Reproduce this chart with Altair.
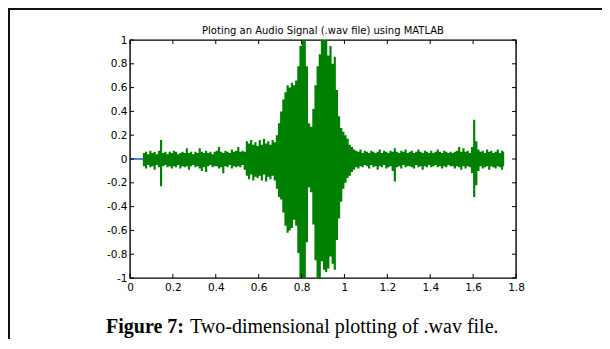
import altair as alt
import pandas as pd

# ---------------- text ----------------
title_text = "Ploting an Audio Signal (.wav file) using MATLAB"
caption_bold = "Figure 7:"
caption_rest = "Two-dimensional plotting of .wav file."

# ---------------- axes ----------------
x_ticks = [0, 0.2, 0.4, 0.6, 0.8, 1, 1.2, 1.4, 1.6, 1.8]
y_ticks = [-1, -0.8, -0.6, -0.4, -0.2, 0, 0.2, 0.4, 0.6, 0.8, 1]

# ---------------- signal envelope (per 0.01 s window) ----------------
step = 0.01
signal_end = 1.745
upper = [
    0, 0, 0, 0, 0, 0, 0.05, 0.06, 0.04, 0.07,
    0.05, 0.06, 0.04, 0.07, 0.16, 0.05, 0.06, 0.04, 0.06, 0.05,
    0.07, 0.06, 0.04, 0.05, 0.06, 0.05, 0.09, 0.05, 0.06, 0.04,
    0.06, 0.05, 0.09, 0.06, 0.05, 0.07, 0.05, 0.06, 0.04, 0.06,
    0.07, 0.10, 0.06, 0.05, 0.07, 0.06, 0.05, 0.08, 0.06, 0.07,
    0.10, 0.06, 0.07, 0.06, 0.15, 0.13, 0.16, 0.12, 0.14, 0.11,
    0.16, 0.12, 0.17, 0.13, 0.15, 0.12, 0.16, 0.14, 0.20, 0.30,
    0.40, 0.50, 0.56, 0.62, 0.60, 0.64, 0.62, 0.66, 0.78, 0.95,
    1.00, 1.00, 0.78, 0.30, 0.27, 0.42, 0.62, 0.78, 0.88, 1.00,
    1.00, 1.00, 0.87, 0.95, 0.80, 0.86, 0.58, 0.36, 0.26, 0.23,
    0.20, 0.17, 0.12, 0.10, 0.08, 0.07, 0.06, 0.08, 0.05, 0.07,
    0.06, 0.05, 0.07, 0.06, 0.05, 0.06, 0.08, 0.05, 0.07, 0.06,
    0.05, 0.07, 0.06, 0.09, 0.06, 0.05, 0.07, 0.06, 0.08, 0.05,
    0.06, 0.07, 0.05, 0.06, 0.08, 0.06, 0.05, 0.07, 0.06, 0.05,
    0.07, 0.05, 0.06, 0.08, 0.06, 0.05, 0.07, 0.06, 0.05, 0.06,
    0.05, 0.06, 0.07, 0.10, 0.06, 0.09, 0.06, 0.07, 0.05, 0.10,
    0.33, 0.15, 0.08, 0.06, 0.07, 0.05, 0.08, 0.06, 0.07, 0.05,
    0.06, 0.08, 0.05, 0.07, 0.06,
]
lower = [
    0, 0, 0, 0, 0, 0, -0.06, -0.08, -0.05, -0.07,
    -0.06, -0.09, -0.05, -0.07, -0.23, -0.06, -0.05, -0.07, -0.06, -0.08,
    -0.06, -0.07, -0.05, -0.08, -0.06, -0.07, -0.06, -0.09, -0.06, -0.05,
    -0.07, -0.06, -0.08, -0.10, -0.07, -0.11, -0.06, -0.05, -0.07, -0.06,
    -0.06, -0.08, -0.07, -0.12, -0.06, -0.07, -0.05, -0.08, -0.06, -0.07,
    -0.06, -0.07, -0.05, -0.09, -0.14, -0.17, -0.13, -0.18, -0.15, -0.16,
    -0.14, -0.18, -0.13, -0.19, -0.15, -0.17, -0.14, -0.18, -0.25, -0.32,
    -0.34, -0.45, -0.56, -0.62, -0.60, -0.58, -0.51, -0.56, -0.79, -1.00,
    -1.00, -1.00, -0.70, -0.24, -0.28, -0.55, -0.85, -1.00, -1.00, -0.86,
    -0.93, -0.95, -0.92, -0.82, -0.88, -0.93, -0.68, -0.50, -0.36, -0.25,
    -0.20, -0.16, -0.14, -0.11, -0.09, -0.07, -0.08, -0.06, -0.07, -0.05,
    -0.06, -0.08, -0.05, -0.07, -0.06, -0.09, -0.06, -0.07, -0.05, -0.08,
    -0.07, -0.06, -0.10, -0.19, -0.07, -0.06, -0.08, -0.05, -0.07, -0.06,
    -0.06, -0.07, -0.08, -0.05, -0.07, -0.06, -0.09, -0.06, -0.07, -0.05,
    -0.07, -0.06, -0.05, -0.07, -0.06, -0.08, -0.06, -0.07, -0.05, -0.06,
    -0.06, -0.08, -0.06, -0.07, -0.09, -0.06, -0.08, -0.06, -0.07, -0.12,
    -0.32, -0.22, -0.10, -0.06, -0.08, -0.07, -0.06, -0.09, -0.06, -0.07,
    -0.08, -0.06, -0.07, -0.09, -0.06,
]
silence_t = [0, 0.065]
silence_v = [0, 0]

# ---------------- tables ----------------
n = len(upper)
times = [round(i * step, 2) for i in range(n)] + [signal_end]
wave = pd.DataFrame({"t": times, "hi": upper + [upper[-1]], "lo": lower + [lower[-1]]})
silence = pd.DataFrame({"t": silence_t, "v": silence_v})
xt = pd.DataFrame({"t": x_ticks})
yt = pd.DataFrame({"hi": y_ticks})
one = pd.DataFrame({"k": [0]})

W, H = 386, 238
TICK = 4
xs = alt.Scale(domain=[0, 1.8], nice=False, zero=False)
ys = alt.Scale(domain=[-1, 1], nice=False, zero=False)
lab_font = "DejaVu Sans"

x_axis = alt.Axis(values=x_ticks, labelExpr="'' + datum.value", ticks=False, tickSize=0,
                  domain=False, grid=False, labelFont=lab_font, labelFontSize=10.5,
                  labelColor="black", labelPadding=4, labelFlush=False,
                  labelOverlap=False, title=None)
y_axis = alt.Axis(values=y_ticks, labelExpr="'' + datum.value", ticks=False, tickSize=0,
                  domain=False, grid=False, labelFont=lab_font, labelFontSize=10.5,
                  labelColor="black", labelPadding=3, labelFlush=False,
                  labelOverlap=False, labelBound=False, title=None)

X = alt.X("t:Q", scale=xs, axis=x_axis)
Y = alt.Y("hi:Q", scale=ys, axis=y_axis)

area = alt.Chart(wave).mark_area(interpolate="step-after", color="#008000", clip=True).encode(
    x=X, y=Y, y2="lo:Q",
)

sil = alt.Chart(silence).mark_line(color="#2a55c8", strokeWidth=1.5).encode(
    x=X, y=alt.Y("v:Q", scale=ys, axis=y_axis),
)

tick_style = dict(color="black", strokeWidth=1)
xt_top = alt.Chart(xt).mark_rule(**tick_style).encode(
    x=X, y=alt.value(0), y2=alt.value(TICK))
xt_bot = alt.Chart(xt).mark_rule(**tick_style).encode(
    x=X, y=alt.value(H), y2=alt.value(H - TICK))
yt_left = alt.Chart(yt).mark_rule(**tick_style).encode(
    y=Y, x=alt.value(0), x2=alt.value(TICK))
yt_right = alt.Chart(yt).mark_rule(**tick_style).encode(
    y=Y, x=alt.value(W), x2=alt.value(W - TICK))

title = alt.Chart(one).mark_text(
    text=title_text, font=lab_font, fontSize=10, color="black", align="center", baseline="alphabetic"
).encode(x=alt.value(193), y=alt.value(-6))

cap1 = alt.Chart(one).mark_text(
    text=caption_bold, font="Liberation Serif", fontSize=20, fontWeight="bold", color="black",
    align="left", baseline="alphabetic"
).encode(x=alt.value(-24), y=alt.value(293))
cap2 = alt.Chart(one).mark_text(
    text=caption_rest, font="Liberation Serif", fontSize=20, color="black",
    align="left", baseline="alphabetic"
).encode(x=alt.value(60), y=alt.value(293))

frame_style = dict(color="#111111", strokeWidth=2)
frame_top = alt.Chart(one).mark_rule(**frame_style).encode(
    x=alt.value(-122), x2=alt.value(W + 86), y=alt.value(-31))
frame_left = alt.Chart(one).mark_rule(**frame_style).encode(
    x=alt.value(-121), y=alt.value(-32), y2=alt.value(H + 61))
stub1 = alt.Chart(one).mark_rule(**frame_style).encode(
    x=alt.value(-122), x2=alt.value(-121), y=alt.value(59))
stub2 = alt.Chart(one).mark_rule(**frame_style).encode(
    x=alt.value(-122), x2=alt.value(-121), y=alt.value(203))

chart = alt.layer(
    area, sil, xt_top, xt_bot, yt_left, yt_right, title, cap1, cap2,
    frame_top, frame_left, stub1, stub2,
).properties(
    width=W, height=H,
    autosize=alt.AutoSizeParams(type="none"),
    padding={"left": 122, "top": 32, "right": 86, "bottom": 61},
    background="white",
).configure_view(stroke="black", strokeWidth=1.4)

chart.save("out.html", embed_options={"renderer": "svg", "actions": False})
